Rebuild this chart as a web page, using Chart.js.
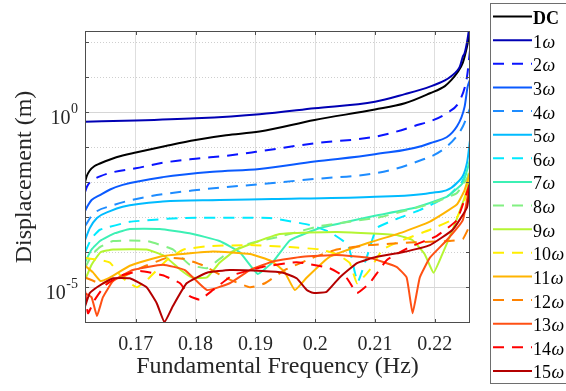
<!DOCTYPE html>
<html><head><meta charset="utf-8">
<script src="https://cdn.jsdelivr.net/npm/chart.js@4/dist/chart.umd.min.js"></script>
<style>html,body{margin:0;padding:0;background:#fff;}#wrap{width:566px;height:391px;}</style>
</head><body><div id="wrap"><canvas id="c" width="566" height="391"></canvas></div>
<script>
// ---- tick values / labels ----
const xTicks = [0.17, 0.18, 0.19, 0.2, 0.21, 0.22];
const yTicks = [1e-6, 1e-5, 1e-4, 1e-3, 1e-2, 1e-1, 1, 10, 100];
const yLabelled = [[1, '10', '0'], [1e-5, '10', '-5']];
const seriesNames = ['DC','1ω','2ω','3ω','4ω','5ω','6ω','7ω','8ω','9ω','10ω','11ω','12ω','13ω','14ω','15ω'];
const seriesColors = ['#000000','#0000b4','#0a14ff','#0a5aff','#1e8cff','#00bbff','#00eaff','#3cf0b4','#82f082','#b4f532','#ffee00','#ffb400','#ff8200','#ff5014','#ff0000','#b40000'];
const seriesDashed = [false,false,true,false,true,false,true,false,true,false,true,false,true,false,true,false];

// ---- series values: [frequency (Hz), displacement (m)] ----
const sDC = [[0.1615,1.0e-2],[0.1618,1.51e-2],[0.1623,2.17e-2],[0.1631,2.92e-2],[0.1640,3.44e-2],[0.1657,4.48e-2],[0.1678,5.8e-2],[0.1700,7.1e-2],[0.1750,0.109],[0.1800,0.162],[0.1851,0.22],[0.1907,0.28],[0.1999,0.60],[0.2100,1.2],[0.2150,1.8],[0.2192,3.5],[0.2217,5.6],[0.2228,8.4],[0.2237,13],[0.2247,26],[0.2254,75],[0.2259,210]];
const s1w = [[0.1615,0.54],[0.1700,0.58],[0.1800,0.67],[0.1907,0.88],[0.1999,1.30],[0.2100,2.0],[0.2150,3.3],[0.2192,5.4],[0.2217,8.1],[0.2228,10.9],[0.2237,15],[0.2242,20],[0.2247,39],[0.2250,49],[0.2254,100],[0.2257,210]];
const s2w = [[0.1615,5.2e-3],[0.1618,7.3e-3],[0.1623,9.9e-3],[0.1631,1.24e-2],[0.1640,1.47e-2],[0.1657,1.85e-2],[0.1700,2.5e-2],[0.1745,3.6e-2],[0.1800,4.7e-2],[0.1851,5.7e-2],[0.1901,7.4e-2],[0.1999,0.13],[0.2100,0.20],[0.2163,0.39],[0.2220,0.94],[0.2242,2.2],[0.2254,10.4],[0.2259,60]];
const s3w = [[0.1615,1.5e-3],[0.1620,2.2e-3],[0.1626,3.1e-3],[0.1640,4.3e-3],[0.1657,6.2e-3],[0.1678,8.4e-3],[0.1745,1.4e-2],[0.1829,2.0e-2],[0.1907,2.4e-2],[0.1999,3.9e-2],[0.2100,6.3e-2],[0.2192,0.13],[0.2237,0.39],[0.2250,1.45],[0.2255,5.3],[0.2259,8.4]];
const s4w = [[0.1615,5.6e-4],[0.1628,1.2e-3],[0.1662,2.2e-3],[0.1718,3.8e-3],[0.1802,6.0e-3],[0.1907,8.8e-3],[0.1999,1.24e-2],[0.2100,1.8e-2],[0.2163,3.5e-2],[0.2220,0.104],[0.2247,0.39],[0.2259,1.3]];
const s5w = [[0.1615,2.2e-4],[0.1623,4.9e-4],[0.1635,9.5e-4],[0.1657,1.5e-3],[0.1678,2.0e-3],[0.1745,2.8e-3],[0.1840,3.1e-3],[0.1929,3.3e-3],[0.2091,3.8e-3],[0.2192,4.9e-3],[0.2237,9.5e-3],[0.2254,3.6e-2],[0.2259,0.16]];
const s6w = [[0.1615,1.0e-4],[0.1626,2.5e-4],[0.1640,4.4e-4],[0.1690,7.4e-4],[0.1774,9.5e-4],[0.1924,9.5e-4],[0.1991,6.0e-4],[0.2024,3.8e-4],[0.2055,1.6e-4],[0.2071,1.4e-5],[0.2086,6.9e-5],[0.2103,4.9e-4],[0.2136,8.9e-4],[0.2175,1.6e-3],[0.2203,2.7e-3],[0.2225,4.4e-3],[0.2245,1.0e-2],[0.2259,3.1e-2]];
const s7w = [[0.1615,5.2e-5],[0.1626,1.2e-4],[0.1640,2.1e-4],[0.1665,3.5e-4],[0.1690,4.6e-4],[0.1740,4.6e-4],[0.1790,3.5e-4],[0.1840,2.1e-4],[0.1874,1.0e-4],[0.1904,2.4e-5],[0.1929,5.2e-5],[0.1958,2.2e-4],[0.2008,4.9e-4],[0.2100,1.1e-3],[0.2163,1.8e-3],[0.2220,3.8e-3],[0.2247,9.5e-3],[0.2259,4.3e-2]];
const s8w = [[0.1615,3.5e-5],[0.1626,8.3e-5],[0.1640,1.4e-4],[0.1662,2.1e-4],[0.1718,2.1e-4],[0.1762,1.2e-4],[0.1790,4.4e-5],[0.1819,3.5e-5],[0.1845,7.4e-5],[0.1886,1.7e-4],[0.1941,2.8e-4],[0.2008,5.6e-4],[0.2108,1.0e-3],[0.2192,2.4e-3],[0.2237,4.9e-3],[0.2255,1.4e-2],[0.2259,4.3e-2]];
const s9w = [[0.1615,1.6e-5],[0.1626,4.4e-5],[0.1641,1.0e-4],[0.1662,1.2e-4],[0.1718,1.2e-4],[0.1748,7.8e-5],[0.1774,3.2e-5],[0.1794,1.9e-5],[0.1819,1.9e-5],[0.1840,5.0e-5],[0.1869,1.2e-4],[0.1941,3.3e-4],[0.2036,3.8e-4],[0.2136,3.1e-4],[0.2163,2.2e-4],[0.2183,8.9e-5],[0.2198,2.6e-5],[0.2212,8.3e-5],[0.2233,6.0e-4],[0.2254,6.0e-3],[0.2259,2.2e-2]];
const s10w = [[0.1615,6.9e-5],[0.1640,6.0e-5],[0.1657,5.0e-5],[0.1677,1.9e-5],[0.1702,1.0e-5],[0.1723,1.9e-5],[0.1752,6.0e-5],[0.1780,1.2e-4],[0.1824,1.5e-4],[0.1891,1.6e-4],[0.1958,1.4e-4],[0.2008,1.2e-4],[0.2036,8.9e-5],[0.2058,4.9e-5],[0.2070,1.3e-5],[0.2091,3.1e-5],[0.2113,1.2e-4],[0.2146,2.2e-4],[0.2192,4.4e-4],[0.2237,1.0e-3],[0.2250,3.1e-3],[0.2259,1.9e-2]];
const s11w = [[0.1615,4.1e-5],[0.1628,2.7e-5],[0.1641,1.5e-5],[0.1657,1.9e-5],[0.1690,4.1e-5],[0.1745,7.8e-5],[0.1829,1.05e-4],[0.1891,8.9e-5],[0.1927,5.6e-5],[0.1949,2.7e-5],[0.1966,8.3e-6],[0.1986,1.9e-5],[0.2024,7.4e-5],[0.2091,1.9e-4],[0.2146,3.7e-4],[0.2192,7.5e-4],[0.2237,2.3e-3],[0.2250,6.0e-3],[0.2259,1.9e-2]];
const s12w = [[0.1615,1.9e-5],[0.1640,1.3e-5],[0.1668,1.6e-5],[0.1707,3.5e-5],[0.1752,6.9e-5],[0.1780,6.5e-5],[0.1814,4.1e-5],[0.1849,1.9e-5],[0.1891,1.0e-5],[0.1916,1.3e-5],[0.1949,3.1e-5],[0.1996,6.9e-5],[0.2036,1.2e-4],[0.2091,1.6e-4],[0.2158,1.9e-4],[0.2225,2.1e-4],[0.2247,2.4e-4],[0.2259,6.0e-4]];
const s13w = [[0.1615,6.8e-6],[0.1626,5.2e-6],[0.1635,1.5e-6],[0.1645,5.2e-6],[0.1662,1.5e-5],[0.1695,3.1e-5],[0.1745,4.4e-5],[0.1782,3.1e-5],[0.1819,8.3e-6],[0.1857,1.3e-5],[0.1891,3.1e-5],[0.1932,5.6e-5],[0.1979,7.4e-5],[0.2036,8.3e-5],[0.2091,6.9e-5],[0.2136,3.8e-5],[0.2153,1.9e-5],[0.2163,1.8e-6],[0.2175,1.9e-5],[0.2192,7.0e-5],[0.2220,2.2e-4],[0.2247,8.3e-4],[0.2259,9.5e-3]];
const s14w = [[0.1615,8.3e-6],[0.1620,1.8e-6],[0.1631,4.3e-6],[0.1648,1.1e-5],[0.1673,2.1e-5],[0.1707,2.9e-5],[0.1745,2.2e-5],[0.1774,1.3e-5],[0.1790,5.6e-6],[0.1807,4.4e-6],[0.1829,8.3e-6],[0.1862,2.2e-5],[0.1912,3.8e-5],[0.1969,5.2e-5],[0.2024,3.5e-5],[0.2053,1.8e-5],[0.2070,6.8e-6],[0.2091,1.3e-5],[0.2120,6.0e-5],[0.2158,1.4e-4],[0.2203,2.9e-4],[0.2237,8.3e-4],[0.2259,9.5e-3]];
const s15w = [[0.1615,2.8e-6],[0.1623,6.8e-6],[0.1635,1.0e-5],[0.1662,1.8e-5],[0.1690,1.8e-5],[0.1718,1.0e-5],[0.1735,3.5e-6],[0.1748,1.0e-6],[0.1762,2.9e-6],[0.1785,1.3e-5],[0.1819,2.6e-5],[0.1857,3.1e-5],[0.1912,2.9e-5],[0.1946,2.6e-5],[0.1969,1.8e-5],[0.1986,8.3e-6],[0.1996,6.9e-6],[0.2019,7.4e-6],[0.2041,1.9e-5],[0.2070,4.9e-5],[0.2103,7.4e-5],[0.2146,1.0e-4],[0.2192,1.6e-4],[0.2230,4.4e-4],[0.2254,1.9e-3],[0.2259,9.5e-3]];
const seriesList = [sDC,s1w,s2w,s3w,s4w,s5w,s6w,s7w,s8w,s9w,s10w,s11w,s12w,s13w,s14w,s15w];

// ---- styling ----
const SERIF = "'Liberation Serif','Times New Roman',serif";
const TXT = '#262626';
const DASH = [11, 8];

const datasets = seriesList.map((s, i) => ({
  label: seriesNames[i],
  data: s.map(p => ({x: p[0], y: p[1]})),
  borderColor: seriesColors[i],
  backgroundColor: seriesColors[i],
  borderWidth: 2,
  borderDash: seriesDashed[i] ? DASH : [],
  pointRadius: 0,
  fill: false,
  cubicInterpolationMode: i <= 5 ? 'monotone' : 'default',
  tension: i <= 5 ? 0.4 : 0.12,
  order: 16 - i
}));

const framePlugin = {
  id: 'frame',
  afterDatasetsDraw(chart) {
    const {ctx, chartArea: a, scales: {x, y}} = chart;
    ctx.save();
    ctx.strokeStyle = '#4d4d4d';
    ctx.lineWidth = 1;
    ctx.strokeRect(a.left + 0.5, a.top + 0.5, a.right - a.left - 1, a.bottom - a.top - 1);
    ctx.beginPath();
    xTicks.forEach(v => {
      const px = Math.round(x.getPixelForValue(v)) + 0.5;
      ctx.moveTo(px, a.bottom); ctx.lineTo(px, a.bottom - 4);
      ctx.moveTo(px, a.top); ctx.lineTo(px, a.top + 4);
    });
    yTicks.forEach(v => {
      const py = Math.round(y.getPixelForValue(v)) + 0.5;
      if (py < a.top + 1 || py > a.bottom - 1) return;
      ctx.moveTo(a.left, py); ctx.lineTo(a.left + 4, py);
      ctx.moveTo(a.right, py); ctx.lineTo(a.right - 4, py);
    });
    ctx.stroke();
    // y tick labels with exponent
    ctx.fillStyle = TXT;
    ctx.textAlign = 'right';
    ctx.textBaseline = 'alphabetic';
    yLabelled.forEach(([v, base, ex]) => {
      const py = y.getPixelForValue(v);
      ctx.font = '14px ' + SERIF;
      const ew = ctx.measureText(ex).width;
      ctx.fillText(ex, 78, py + 1);
      ctx.font = '20px ' + SERIF;
      ctx.fillText(base, 78 - ew - 0.5, py + 12);
    });
    ctx.restore();
  },
  afterDraw(chart) {
    const ctx = chart.ctx;
    ctx.save();
    ctx.strokeStyle = '#6e6e6e';
    ctx.lineWidth = 1;
    ctx.strokeRect(490.5, 3.5, 100, 380);
    chart.data.datasets.forEach((ds, i) => {
      const yy = 16.5 + i * 23.63;
      ctx.beginPath();
      ctx.setLineDash(ds.borderDash);
      ctx.strokeStyle = ds.borderColor;
      ctx.lineWidth = 2;
      ctx.moveTo(493, yy); ctx.lineTo(532, yy);
      ctx.stroke();
      ctx.setLineDash([]);
      ctx.fillStyle = '#000';
      ctx.textAlign = 'left';
      ctx.textBaseline = 'alphabetic';
      const lab = ds.label;
      const base = yy + 7.5;
      if (lab.endsWith('ω')) {
        const num = lab.slice(0, -1);
        ctx.font = '18px ' + SERIF;
        ctx.fillText(num, 533, base);
        const w = ctx.measureText(num).width;
        ctx.font = 'italic 18px ' + SERIF;
        ctx.fillText('ω', 533 + w + 0.5, base);
      } else {
        ctx.font = 'bold 18px ' + SERIF;
        ctx.fillText(lab, 533, base);
      }
    });
    ctx.restore();
  }
};

new Chart(document.getElementById('c'), {
  type: 'line',
  data: {datasets},
  options: {
    responsive: false,
    animation: false,
    devicePixelRatio: 1,
    layout: {padding: {left: 0, top: 31, right: 96, bottom: 0}},
    plugins: {legend: {display: false}, tooltip: {enabled: false}},
    scales: {
      x: {
        type: 'linear', min: 0.1615, max: 0.2259,
        afterBuildTicks: s => { s.ticks = xTicks.map(v => ({value: v})); },
        afterFit: s => { s.height = 68; },
        ticks: {callback: v => String(+v.toFixed(2)), font: {family: SERIF, size: 20}, color: TXT, padding: 10, maxRotation: 0, autoSkip: false},
        grid: {color: '#dedede', lineWidth: 1, drawTicks: false},
        border: {display: false},
        title: {display: true, text: 'Fundamental Frequency (Hz)', font: {family: SERIF, size: 24}, color: TXT, padding: {top: 0, bottom: 10}}
      },
      y: {
        type: 'logarithmic', min: 9.5e-7, max: 210,
        afterBuildTicks: s => { s.ticks = yTicks.map(v => ({value: v})); },
        afterFit: s => { s.width = 85; },
        ticks: {display: false},
        grid: {
          color: ctx => (ctx.tick && (ctx.tick.value === 1 || ctx.tick.value === 1e-5)) ? '#d6d6d6' : '#cfcfcf',
          lineWidth: 1, drawTicks: false
        },
        border: {
          display: false,
          dash: ctx => (ctx.tick && (ctx.tick.value === 1 || ctx.tick.value === 1e-5)) ? [] : [1, 2]
        },
        title: {display: true, text: 'Displacement (m)', font: {family: SERIF, size: 24}, color: TXT, padding: {top: 10, bottom: 0}}
      }
    }
  },
  plugins: [framePlugin]
});
</script>
</body></html>
